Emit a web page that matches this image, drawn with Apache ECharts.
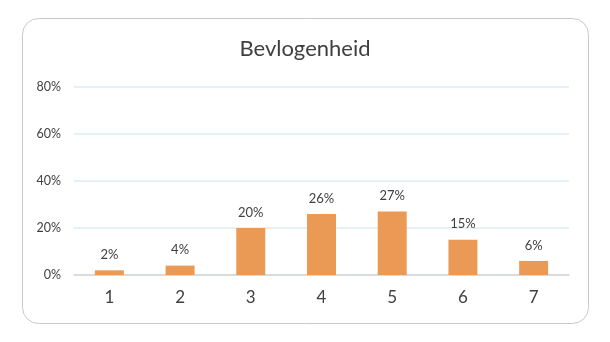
<!DOCTYPE html>
<html><head><meta charset="utf-8">
<script src="https://cdn.jsdelivr.net/npm/echarts@6/dist/echarts.min.js"></script>
<style>html,body{margin:0;padding:0;background:#fff}#c{width:610px;height:342px}</style>
</head><body><div id="c"></div>
<script>
const categories = ['1','2','3','4','5','6','7'];
const values = [2,4,20,26,27,15,6];
const yTicks = [0,20,40,60,80];
const title = 'Bevlogenheid';
const chart = echarts.init(document.getElementById('c'));
chart.setOption({
  animation:false,
  textStyle:{fontFamily:'Lato'},
  graphic:[{type:'rect',shape:{x:22.5,y:18.5,width:566,height:305,r:16},style:{fill:'none',stroke:'#c8c8c8',lineWidth:1}}],
  title:{text:title,left:'center',top:33,textStyle:{fontFamily:'Lato',fontSize:22,fontWeight:'normal',color:'#404040'}},
  grid:{left:74,right:41,top:87,bottom:67},
  xAxis:{type:'category',data:categories,axisLine:{lineStyle:{color:'#d4d4d4',width:1.5}},axisTick:{show:false},
    axisLabel:{fontSize:17,color:'#404040',margin:14}},
  yAxis:{type:'value',min:yTicks[0],max:yTicks[yTicks.length-1],interval:20,
    axisLabel:{formatter:'{value}%',fontSize:12.5,color:'#404040',margin:13},
    splitLine:{lineStyle:{color:'#deebf5',width:1.5}},axisLine:{show:false},axisTick:{show:false}},
  series:[{type:'bar',data:values,barWidth:29,itemStyle:{color:'#eb9a55'},
    label:{show:true,position:'top',distance:9,formatter:'{c}%',fontSize:13,color:'#404040'}}]
});
</script></body></html>
